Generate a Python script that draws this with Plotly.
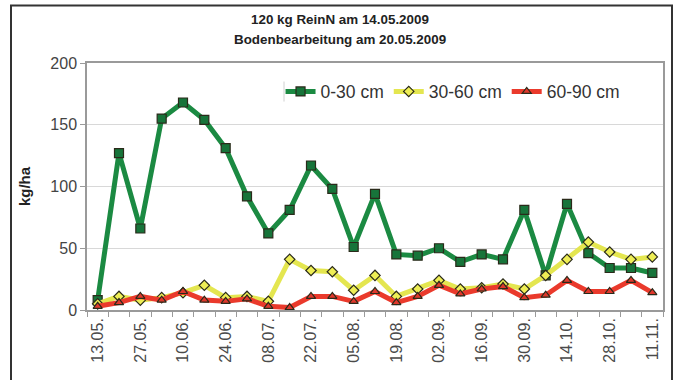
import plotly.graph_objects as go

# Sampling dates (weekly, 2009)
dates = ["13.05.", "20.05.", "27.05.", "03.06.", "10.06.", "17.06.", "24.06.",
         "01.07.", "08.07.", "15.07.", "22.07.", "29.07.", "05.08.", "12.08.",
         "19.08.", "26.08.", "02.09.", "09.09.", "16.09.", "23.09.", "30.09.",
         "07.10.", "14.10.", "21.10.", "28.10.", "04.11.", "11.11."]

# Mineral nitrogen (kg/ha) per soil layer
n_0_30 = [8, 127, 66, 155, 168, 154, 131, 92, 62, 81, 117, 98, 51, 94,
          45, 44, 50, 39, 45, 41, 81, 28, 86, 46, 34, 34, 30]
n_30_60 = [5, 11, 8, 10, 14, 20, 10, 11, 7, 41, 32, 31, 16, 28,
           11, 17, 24, 17, 18, 21, 17, 28, 41, 55, 47, 41, 43]
n_60_90 = [3, 6, 11, 8, 15, 8, 7, 9, 3, 2, 11, 11, 7, 15,
           6, 11, 20, 13, 17, 19, 10, 12, 24, 15, 15, 24, 14]

y_ticks = [0, 50, 100, 150, 200]
title_lines = ["120 kg ReinN am 14.05.2009", "Bodenbearbeitung am 20.05.2009"]

idx = list(range(len(dates)))
label_idx = idx[::2]
label_txt = [dates[i] for i in label_idx]

FONT = "Liberation Sans, Arial, sans-serif"

# plot area in pixels: x 87..663, y 63.5..310
PW, PH, PB = 576, 246.5, 310


def py(pix):
    """pixel row -> paper y"""
    return (PB - pix) / PH


def px(pix):
    """pixel column -> paper x"""
    return (pix - 87) / PW


fig = go.Figure()

series = [
    ("0-30 cm", n_0_30, "#1b8a42", "square", "#17743a", 9),
    ("30-60 cm", n_30_60, "#e4e650", "diamond", "#eeee55", 8),
    ("60-90 cm", n_60_90, "#ea3a2c", "triangle-up", "#e0382c", 8),
]
for name, vals, lc, sym, fc, ms in series:
    fig.add_trace(go.Scatter(
        x=idx, y=vals, name=name, mode="lines+markers",
        line=dict(color=lc, width=5),
        marker=dict(symbol=sym, size=ms, color=fc,
                    line=dict(color="#2a2a1a", width=1.2)),
    ))

# outer chart frame
fig.add_shape(type="rect", xref="paper", yref="paper",
              x0=px(11), x1=px(672), y0=-0.5, y1=py(6),
              line=dict(color="#333333", width=2), layer="below")

# faint left edge of the legend box
fig.add_shape(type="line", xref="paper", yref="paper",
              x0=px(284), x1=px(284), y0=py(82), y1=py(102),
              line=dict(color="#d0d0d0", width=1))

# two-line bold heading
for txt, row in zip(title_lines, [20, 40]):
    fig.add_annotation(text=f"<b>{txt}</b>", xref="paper", yref="paper",
                       x=px(340), y=py(row), xanchor="center",
                       yanchor="middle", showarrow=False,
                       font=dict(size=13.4, color="#222222", family=FONT))

fig.update_layout(
    width=677, height=380,
    margin=dict(l=87, r=14, t=63, b=70),
    paper_bgcolor="white", plot_bgcolor="white",
    font=dict(family=FONT, color="#333333"),
    showlegend=True,
    legend=dict(
        orientation="h", x=0.336, y=py(92), xanchor="left", yanchor="middle",
        bgcolor="rgba(255,255,255,0)", font=dict(size=17.5, color="#333333"),
        itemwidth=30, tracegroupgap=0,
    ),
    xaxis=dict(
        range=[-0.5, len(dates) - 0.5],
        tickmode="array", tickvals=label_idx, ticktext=label_txt,
        tickangle=-90, ticks="", tickfont=dict(size=16, color="#4a4a4a"),
        showgrid=False, zeroline=False,
        showline=True, linecolor="#9a9a9a", linewidth=1.5, mirror=True,
        minor=dict(tickmode="array",
                   tickvals=[i - 0.5 for i in range(len(dates) + 1)],
                   ticks="outside", ticklen=5, tickcolor="#9a9a9a",
                   showgrid=False),
    ),
    yaxis=dict(
        range=[0, 200], tickmode="array", tickvals=y_ticks,
        ticks="outside", ticklen=5, tickcolor="#9a9a9a",
        tickfont=dict(size=16, color="#444444"),
        showgrid=True, gridcolor="#d8d8d8", gridwidth=1,
        zeroline=False, showline=True, linecolor="#9a9a9a", linewidth=1.5,
        mirror=True,
        title=dict(text="<b>kg/ha</b>", font=dict(size=15, color="#222222"),
                   standoff=16),
    ),
)

fig.write_html("out.html")
